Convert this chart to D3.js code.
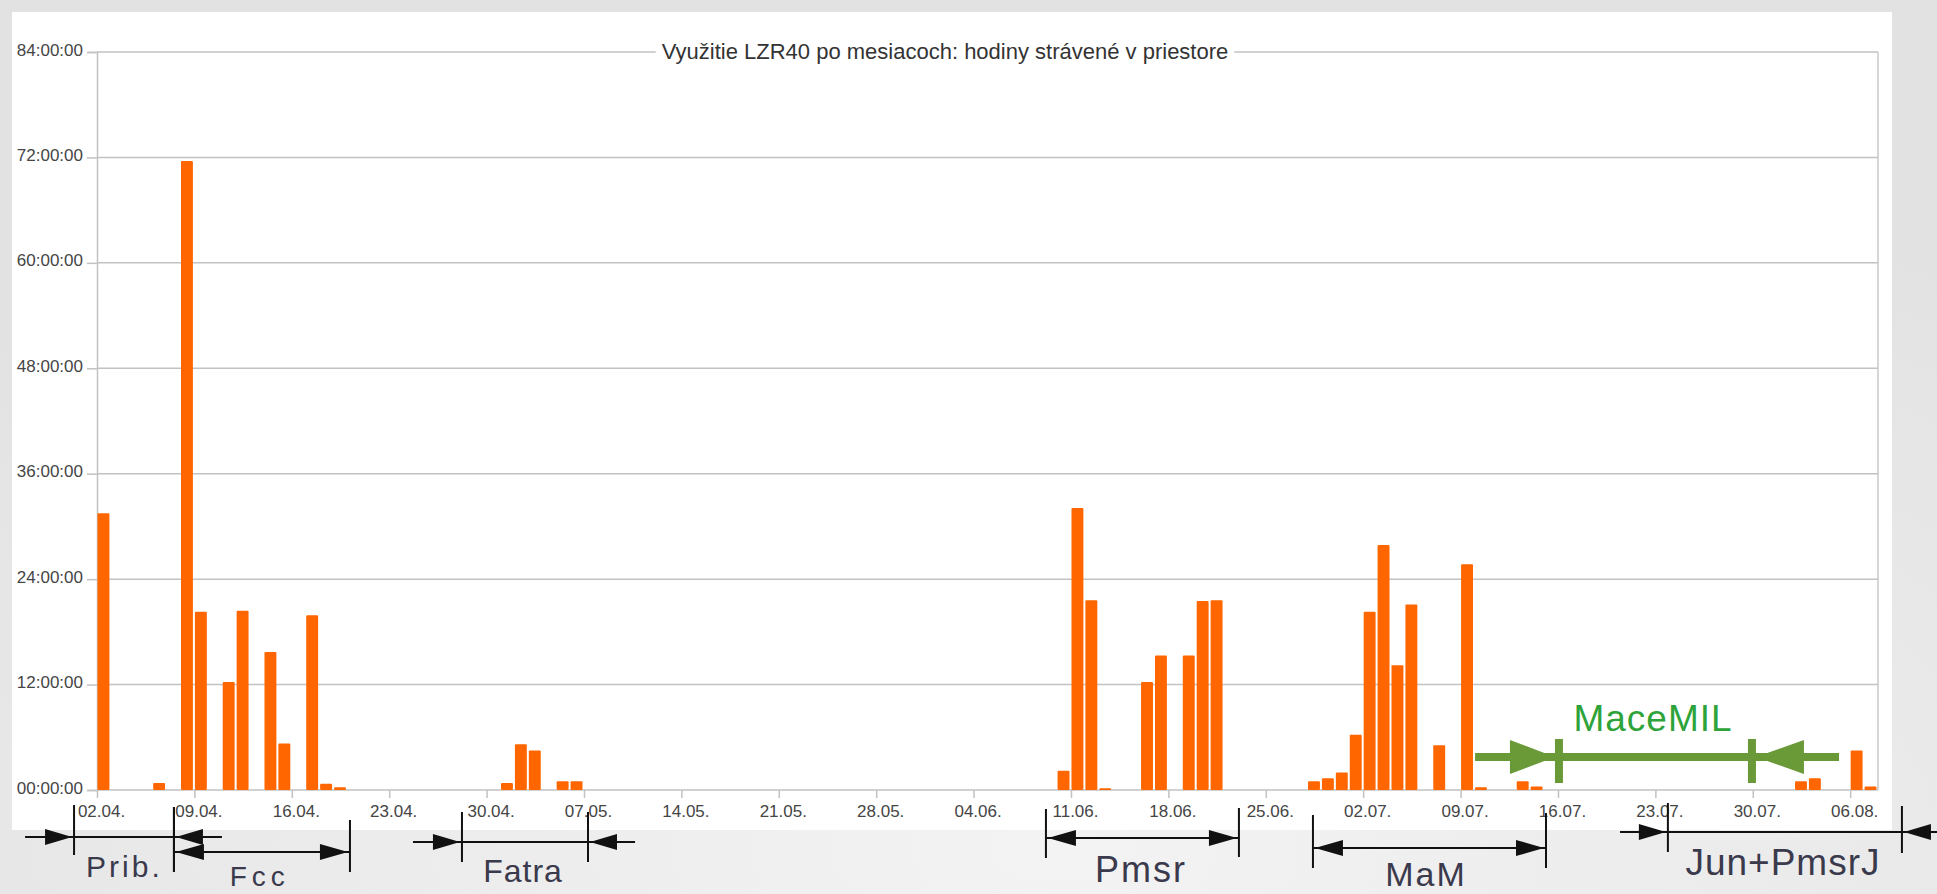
<!DOCTYPE html>
<html><head><meta charset="utf-8">
<script src="https://cdn.jsdelivr.net/npm/d3@7"></script>
<style>html,body{margin:0;padding:0;overflow:hidden;background:#e9e9e9}</style>
</head><body>
<svg id="c" width="1937" height="894"></svg>
<script>
// ---- data (hours spent in the room per day) ----
const usageDates = ["2018-04-02","2018-04-06","2018-04-08","2018-04-09","2018-04-11","2018-04-12","2018-04-14","2018-04-15","2018-04-17","2018-04-18","2018-04-19",
  "2018-05-01","2018-05-02","2018-05-03","2018-05-05","2018-05-06",
  "2018-06-10","2018-06-11","2018-06-12","2018-06-13","2018-06-16","2018-06-17","2018-06-19","2018-06-20","2018-06-21",
  "2018-06-28","2018-06-29","2018-06-30","2018-07-01","2018-07-02","2018-07-03","2018-07-04","2018-07-05","2018-07-07","2018-07-09","2018-07-10",
  "2018-07-13","2018-07-14","2018-08-02","2018-08-03","2018-08-06","2018-08-07"];
const usageHours = [31.5,0.8,71.6,20.3,12.3,20.4,15.7,5.3,19.9,0.7,0.3,
  0.8,5.2,4.5,1.0,1.0,
  2.2,32.1,21.6,0.2,12.3,15.3,15.3,21.5,21.6,
  1.0,1.35,2.0,6.3,20.3,27.9,14.2,21.1,5.1,25.7,0.3,
  1.0,0.4,1.0,1.35,4.5,0.4];
const yTicks = [0,12,24,36,48,60,72,84];
const xTickDates = ["2018-04-02","2018-04-09","2018-04-16","2018-04-23","2018-04-30","2018-05-07","2018-05-14","2018-05-21","2018-05-28","2018-06-04","2018-06-11","2018-06-18","2018-06-25","2018-07-02","2018-07-09","2018-07-16","2018-07-23","2018-07-30","2018-08-06"];
const titleText = "Využitie LZR40 po mesiacoch: hodiny strávené v priestore";

// hand-drawn interval annotations (positions in days from 02.04.)
const spanNames = ["Prib.","Fcc","Fatra","Pmsr","MaM","Jun+PmsrJ"];
const spanFrom  = [-1.65, 5.53, 26.23, 68.2, 87.39, 112.9];
const spanTo    = [5.53, 18.18, 35.29, 82.07, 104.14, 129.72];
const spanStyle = ["outside","inside","outside","inside","inside","outside"];
const spanOuter = [[-5.17,8.98],null,[22.71,38.67],null,null,[109.46,132.24]];
const spanLineY = [837,852,842,838,848,832];
const spanBarL  = [[805,855],[807,872],[812,862],[809,858],[815,868],[803,852]];
const spanBarR  = [[807,872],[820,872],[812,862],[808,857],[813,868],[806,853]];
const spanText  = [[1.97,877,30,3],[11.7,886,28,5],[30.62,882,32,1],[75.03,882,36,2],[95.52,886,34,2],[121.17,875,37,1]];
const maceName = "MaceMIL";
const maceLine = [99.04,125.2], maceBars = [105.07,118.94];

// ---- drawing ----
const svg = d3.select("#c");
const W = 1937, H = 894;
const defs = svg.append("defs");
const rg = defs.append("radialGradient").attr("id","bg").attr("cx","55%").attr("cy","95%").attr("r","80%");
rg.append("stop").attr("offset","0%").attr("stop-color","#f3f3f3");
rg.append("stop").attr("offset","100%").attr("stop-color","#e2e2e2");
svg.append("rect").attr("width",W).attr("height",H).attr("fill","url(#bg)");
svg.append("rect").attr("x",12).attr("y",12).attr("width",1880).attr("height",818).attr("fill","#fff");

const x0 = 97, x1 = 1878, yTop = 52, yBot = 790;
const parse = d3.utcParse("%Y-%m-%d");
const start = parse("2018-04-02"), end = parse("2018-08-09");
const x = d3.scaleUtc().domain([start, end]).range([x0, x0 + (x1-x0) * d3.utcDay.count(start,end)/128]);
const xDay = d3.scaleLinear().domain([0,128]).range([x0,x1]);
const y = d3.scaleLinear().domain([0,84]).range([yBot,yTop]);

// gridlines
svg.append("g").selectAll("line").data(yTicks).join("line")
  .attr("x1",x0).attr("x2",x1).attr("y1",d=>y(d)).attr("y2",d=>y(d))
  .attr("stroke","#c2c2c2").attr("stroke-width",1.5);
// right frame
svg.append("line").attr("x1",x1).attr("x2",x1).attr("y1",yTop).attr("y2",yBot).attr("stroke","#c8c8c8").attr("stroke-width",1.5);

// y axis
const pad2 = h => (h<10?"0":"")+h;
const yAxis = svg.append("g").attr("transform",`translate(${x0},0)`)
  .call(d3.axisLeft(y).tickValues(yTicks).tickSize(10).tickPadding(4).tickFormat(h=>pad2(h)+":00:00"));
yAxis.select(".domain").attr("stroke","#c2c2c2").attr("stroke-width",1.5);
yAxis.selectAll(".tick line").attr("stroke","#c2c2c2").attr("stroke-width",1.5);
yAxis.selectAll(".tick text").attr("font-family","Liberation Sans, Arial, sans-serif").attr("font-size",17)
  .attr("fill","#454545").attr("dy","0.18em");

// x axis
const xAxis = svg.append("g").attr("transform",`translate(0,${yBot})`)
  .call(d3.axisBottom(x).tickValues(xTickDates.map(parse)).tickSize(8).tickPadding(7).tickFormat(d3.utcFormat("%d.%m.")));
xAxis.select(".domain").remove();
xAxis.selectAll(".tick line").attr("stroke","#c2c2c2").attr("stroke-width",1.5);
xAxis.selectAll(".tick text").attr("font-family","Liberation Sans, Arial, sans-serif").attr("font-size",17)
  .attr("fill","#454545").attr("dx",4);

// bars
const bars = usageDates.map((d,i)=>({d:parse(d), v:usageHours[i]}));
svg.append("g").selectAll("rect").data(bars).join("rect")
  .attr("x",b=>x(b.d)+0.5)
  .attr("width",b=>x(d3.utcDay.offset(b.d,1))-x(b.d)-2)
  .attr("y",b=>y(b.v)).attr("height",b=>yBot-y(b.v))
  .attr("rx",1).attr("fill","#ff6600");

// title with white background
const tg = svg.append("g");
const tt = tg.append("text").attr("x",945).attr("y",59).attr("text-anchor","middle")
  .attr("font-family","Liberation Sans, Arial, sans-serif").attr("font-size",22).attr("fill","#333").text(titleText);
const bb = tt.node().getBBox();
tg.insert("rect","text").attr("x",bb.x-6).attr("y",bb.y).attr("width",bb.width+12).attr("height",bb.height).attr("fill","#fff");

// annotations
const ann = svg.append("g").attr("stroke","#111").attr("fill","#111");
function arrowHead(g, tipX, yy, dir, len, half, color){
  g.append("path").attr("d",`M${tipX},${yy} L${tipX-dir*len},${yy-half} L${tipX-dir*len},${yy+half} Z`)
    .attr("fill",color).attr("stroke","none");
}
spanNames.forEach((name,i)=>{
  const xl = xDay(spanFrom[i]), xr = xDay(spanTo[i]), ly = spanLineY[i];
  ann.append("line").attr("x1",xl).attr("x2",xl).attr("y1",spanBarL[i][0]).attr("y2",spanBarL[i][1]).attr("stroke-width",2);
  ann.append("line").attr("x1",xr).attr("x2",xr).attr("y1",spanBarR[i][0]).attr("y2",spanBarR[i][1]).attr("stroke-width",2);
  if(spanStyle[i]==="inside"){
    ann.append("line").attr("x1",xl).attr("x2",xr).attr("y1",ly).attr("y2",ly).attr("stroke-width",2);
    arrowHead(ann, xl+2, ly, -1, 28, 8, "#111");
    arrowHead(ann, xr-2, ly, 1, 28, 8, "#111");
  } else {
    const o = spanOuter[i];
    ann.append("line").attr("x1",xDay(o[0])).attr("x2",xDay(o[1])).attr("y1",ly).attr("y2",ly).attr("stroke-width",2);
    arrowHead(ann, xl-2, ly, 1, 27, 8, "#111");
    arrowHead(ann, xr+2, ly, -1, 27, 8, "#111");
  }
  const t = spanText[i];
  svg.append("text").attr("x",xDay(t[0])).attr("y",t[1]).attr("text-anchor","middle")
    .attr("font-family","Liberation Sans, Arial, sans-serif").attr("font-size",t[2])
    .attr("letter-spacing",t[3]).attr("fill","#3a3a4c").text(name);
});

// MaceMIL green span
const green = "#6a9a38";
const mg = svg.append("g");
const my = 757;
mg.append("line").attr("x1",xDay(maceLine[0])).attr("x2",xDay(maceLine[1])).attr("y1",my).attr("y2",my)
  .attr("stroke",green).attr("stroke-width",8);
maceBars.forEach(b=>mg.append("rect").attr("x",xDay(b)-4).attr("y",739).attr("width",8).attr("height",44).attr("fill",green));
arrowHead(mg, xDay(maceBars[0])-4, my, 1, 45, 17, green);
arrowHead(mg, xDay(maceBars[1])+4, my, -1, 48, 17, green);
svg.append("text").attr("x",xDay(111.83)).attr("y",731).attr("text-anchor","middle")
  .attr("font-family","Liberation Sans, Arial, sans-serif").attr("font-size",37).attr("letter-spacing",1)
  .attr("fill","#2ea33a").text(maceName);
</script>
</body></html>
